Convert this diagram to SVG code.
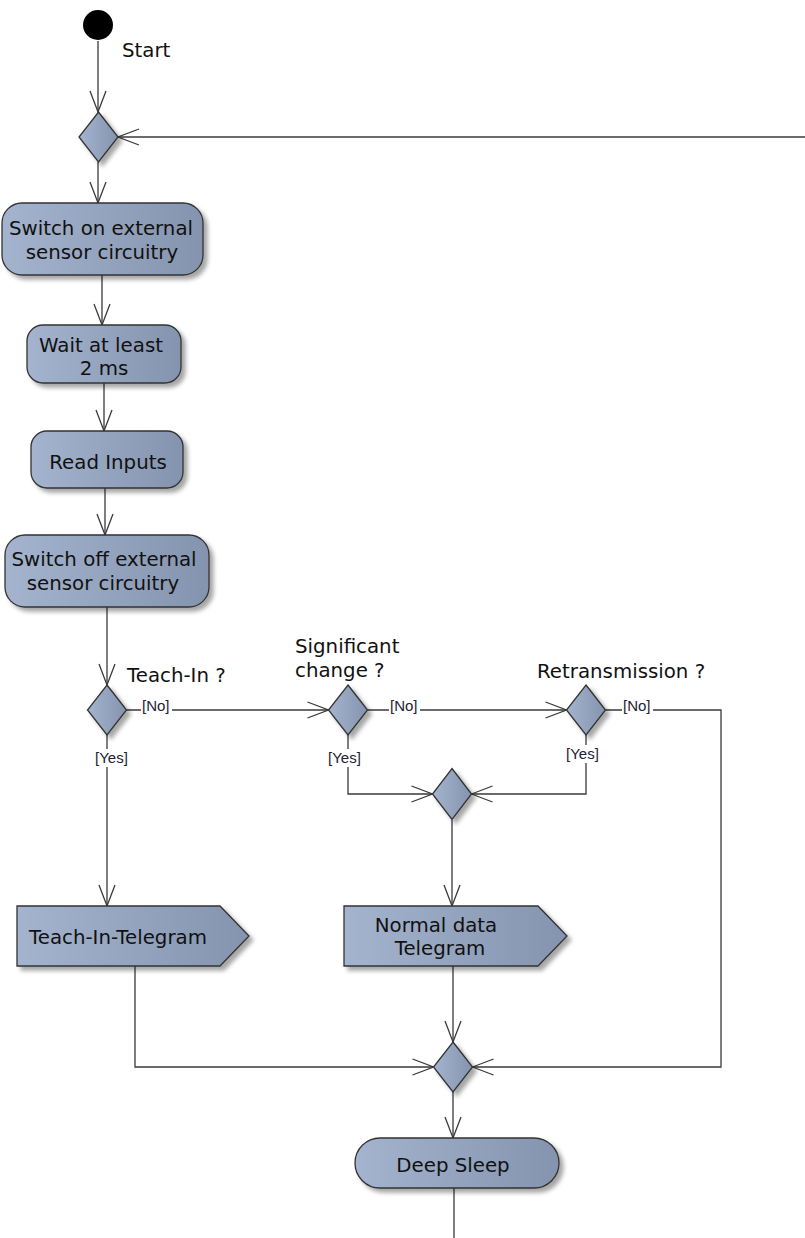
<svg xmlns="http://www.w3.org/2000/svg" width="805" height="1238" viewBox="0 0 805 1238">
<defs>
<linearGradient id="g" x1="0" y1="0" x2="1" y2="0">
<stop offset="0" stop-color="#a4b4ce"/>
<stop offset="1" stop-color="#8494af"/>
</linearGradient>
<filter id="sh" x="-20%" y="-20%" width="150%" height="160%">
<feDropShadow dx="4" dy="4" stdDeviation="2" flood-color="#000" flood-opacity="0.35"/>
</filter>
<marker id="arr" markerUnits="userSpaceOnUse" viewBox="0 0 24 18" markerWidth="24" markerHeight="18" refX="22" refY="9" orient="auto">
<path d="M1,1 L22,9 L1,17" fill="none" stroke="#3a3a3a" stroke-width="1.3"/>
</marker>
<style>
.n{fill:url(#g);stroke:#333;stroke-width:1.3;filter:url(#sh)}
.t{font-family:"DejaVu Sans",Verdana,sans-serif;font-size:19.8px;fill:#111}
.c{text-anchor:middle}
.l{font-family:"Liberation Sans",Arial,sans-serif;font-size:15px;fill:#223}
.bg{fill:#fff}
.e{fill:none;stroke:#3a3a3a;stroke-width:1.3}
.a{marker-end:url(#arr)}
</style>
</defs>
<rect width="805" height="1238" fill="#fff"/>

<g id="connectors">
<path class="e a" d="M98,41 V112"/>
<path class="e a" d="M805,137 H118"/>
<path class="e a" d="M98,162 V203"/>
<path class="e a" d="M102,275 V325"/>
<path class="e a" d="M104,383 V431"/>
<path class="e a" d="M105,488 V535"/>
<path class="e a" d="M107,607 V685"/>
<path class="e a" d="M126.5,710 H328.5"/>
<path class="e a" d="M367.5,710 H566.5"/>
<path class="e a" d="M605.5,710 H721 V1067 H472.5"/>
<path class="e a" d="M107,735 V906"/>
<path class="e a" d="M348,735 V794 H432.5"/>
<path class="e a" d="M586,735 V794 H471.5"/>
<path class="e a" d="M452,820 V906"/>
<path class="e a" d="M135,966 V1067 H433.5"/>
<path class="e a" d="M453,966 V1042"/>
<path class="e a" d="M453,1092 V1138"/>
<path class="e" d="M454,1188 V1238"/>
<rect class="bg" x="141" y="699" width="31" height="17"/>
<text class="l" x="142" y="711">[No]</text>
<rect class="bg" x="389" y="699" width="31" height="17"/>
<text class="l" x="390" y="711">[No]</text>
<rect class="bg" x="622" y="699" width="31" height="17"/>
<text class="l" x="623" y="711">[No]</text>
<rect class="bg" x="94" y="749" width="37" height="18"/>
<text class="l" x="95" y="763">[Yes]</text>
<rect class="bg" x="327" y="749" width="37" height="18"/>
<text class="l" x="328" y="763">[Yes]</text>
<rect class="bg" x="565" y="745" width="37" height="18"/>
<text class="l" x="566" y="759">[Yes]</text>
</g>

<g id="start">
<circle cx="98" cy="25" r="15" fill="#000"/>
<text class="t" x="122" y="57">Start</text>
</g>

<g id="merge1">
<polygon class="n" points="98.5,112 118,137 98.5,162 79,137"/>
</g>

<g id="switch-on">
<rect class="n" x="2" y="203" width="201" height="72" rx="20"/>
<text class="t c" x="101" y="235">Switch on external</text>
<text class="t c" x="102" y="259">sensor circuitry</text>
</g>

<g id="wait">
<rect class="n" x="27" y="325" width="154" height="58" rx="16"/>
<text class="t c" x="101" y="352">Wait at least</text>
<text class="t c" x="104" y="375">2 ms</text>
</g>

<g id="read">
<rect class="n" x="31" y="431" width="152" height="57" rx="16"/>
<text class="t c" x="108" y="469">Read Inputs</text>
</g>

<g id="switch-off">
<rect class="n" x="5" y="535" width="204" height="72" rx="20"/>
<text class="t c" x="104" y="566">Switch off external</text>
<text class="t c" x="103" y="590">sensor circuitry</text>
</g>

<g id="teach-in-decision">
<polygon class="n" points="107,685 126.5,710 107,735 87.5,710"/>
<text class="t" x="127" y="682">Teach-In ?</text>
</g>

<g id="significant-decision">
<polygon class="n" points="348,685 367.5,710 348,735 328.5,710"/>
<text class="t" x="295" y="653">Significant</text>
<text class="t" x="295" y="677">change ?</text>
</g>

<g id="retransmission-decision">
<polygon class="n" points="586,685 605.5,710 586,735 566.5,710"/>
<text class="t" x="537" y="678">Retransmission ?</text>
</g>

<g id="merge2">
<polygon class="n" points="452,768.5 471.5,794 452,819.5 432.5,794"/>
</g>

<g id="teach-in-telegram">
<polygon class="n" points="17,906 220,906 249,936 220,966 17,966"/>
<text class="t c" x="118" y="944">Teach-In-Telegram</text>
</g>

<g id="normal-telegram">
<polygon class="n" points="344,906 538,906 567,936 538,966 344,966"/>
<text class="t c" x="436" y="932">Normal data</text>
<text class="t c" x="440" y="955">Telegram</text>
</g>

<g id="merge3">
<polygon class="n" points="453,1042 472.5,1067 453,1092 433.5,1067"/>
</g>

<g id="deep-sleep">
<rect class="n" x="355" y="1138" width="204" height="50" rx="25"/>
<text class="t c" x="453" y="1172">Deep Sleep</text>
</g>
</svg>
